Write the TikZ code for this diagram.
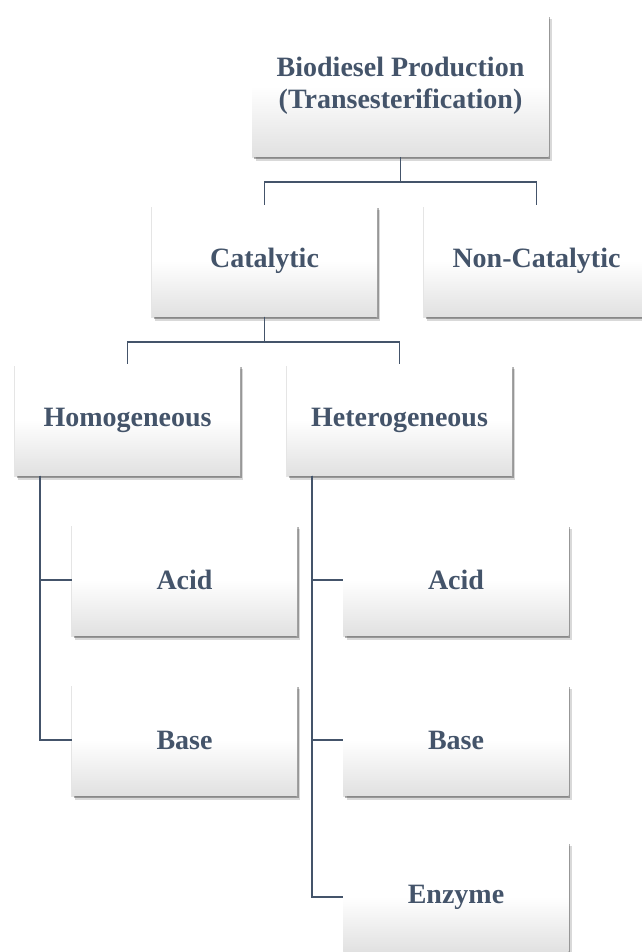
\documentclass[tikz,border=0pt]{standalone}
\usepackage{fontspec}
\setmainfont{Liberation Serif}
\usetikzlibrary{shadows}
\definecolor{cbSlate}{RGB}{68,84,106}
\pgfdeclareverticalshading{boxfade}{100bp}{color(0bp)=(black!12); color(25bp)=(black!12); color(50bp)=(white); color(75bp)=(white); color(100bp)=(white)}
\tikzset{
    box/.style={rectangle,minimum width=225pt,minimum height=111pt,inner sep=0pt,
        shade,shading=boxfade,
        drop shadow={shadow xshift=3pt,shadow yshift=-4pt,opacity=0.15,fill=black},
        drop shadow={shadow xshift=1.5pt,shadow yshift=-2.5pt,opacity=0.3,fill=black},
        drop shadow={shadow xshift=-1pt,shadow yshift=-1pt,opacity=0.1,fill=black},
        text=cbSlate,font=\bfseries\fontsize{28}{32}\selectfont,align=center},
    link/.style={draw=cbSlate,line width=1.6pt}
}

\begin{document}
\begin{tikzpicture}[x=1pt,y=-1pt]
    \useasboundingbox (0,0) rectangle (641,952);

    \node[box,minimum width=296pt,minimum height=142pt] (prod) at (400.5,86) {Biodiesel Production\\(Transesterification)};

    \node[box] (cat) at (264.5,261) {Catalytic};
    \node[box] (noncat) at (536.5,261) {Non-Catalytic};

    \node[box] (homo) at (127.5,420) {Homogeneous};
    \node[box] (hetero) at (399.5,420) {Heterogeneous};

    \node[box] (hoacid) at (184.5,580) {Acid};
    \node[box] (hobase) at (184.5,740) {Base};

    \node[box] (heacid) at (456,580) {Acid};
    \node[box] (hebase) at (456,740) {Base};
    \node[box] (enzyme) at (456,897) {Enzyme};

    \draw[link] (prod.south) -- ++(0,25) -| (cat.north);
    \draw[link] (prod.south) -- ++(0,25) -| (noncat.north);
    \draw[link] (cat.south) -- ++(0,25) -| (homo.north);
    \draw[link] (cat.south) -- ++(0,25) -| (hetero.north);

    % side trunks
    \draw[link] ([xshift=25pt]homo.south west) |- (hoacid.west);
    \draw[link] ([xshift=25pt]homo.south west) |- (hobase.west);
    \draw[link] ([xshift=25pt]hetero.south west) |- (heacid.west);
    \draw[link] ([xshift=25pt]hetero.south west) |- (hebase.west);
    \draw[link] ([xshift=25pt]hetero.south west) |- (enzyme.west);
\end{tikzpicture}
\end{document}
